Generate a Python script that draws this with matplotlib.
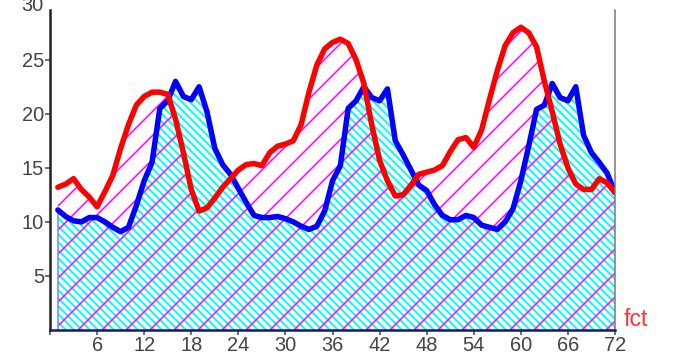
import matplotlib
matplotlib.use("Agg")
import matplotlib.pyplot as plt

# forecast hours
hours = list(range(1, 73))

red_vals = [13.2, 13.5, 14.0, 13.0, 12.3, 11.4, 12.8, 14.3, 16.8, 19.0,
            20.8, 21.6, 22.0, 22.0, 21.8, 19.5, 16.4, 13.0, 11.0, 11.3,
            12.2, 13.2, 14.0, 14.8, 15.3, 15.4, 15.2, 16.4, 17.0, 17.2,
            17.5, 19.0, 22.0, 24.5, 26.0, 26.6, 26.9, 26.5, 25.0, 22.8,
            19.0, 15.7, 13.8, 12.4, 12.5, 13.4, 14.4, 14.6, 14.8, 15.2,
            16.5, 17.6, 17.8, 16.9, 18.5, 21.3, 24.0, 26.3, 27.5, 28.0,
            27.5, 26.2, 23.0, 20.2, 17.2, 15.0, 13.5, 13.0, 13.0, 14.0,
            13.6, 12.7]

blue_vals = [11.1, 10.5, 10.1, 10.0, 10.4, 10.4, 10.0, 9.5, 9.1, 9.5,
             11.5, 13.8, 15.5, 20.5, 21.2, 23.0, 21.6, 21.3, 22.5, 20.2,
             16.8, 15.3, 14.4, 13.1, 11.8, 10.6, 10.4, 10.4, 10.5, 10.3,
             10.0, 9.6, 9.3, 9.6, 11.0, 13.8, 15.2, 20.5, 21.2, 22.5,
             21.5, 21.2, 22.3, 17.5, 16.2, 14.8, 13.4, 12.9, 11.6, 10.6,
             10.2, 10.2, 10.6, 10.4, 9.7, 9.5, 9.3, 10.0, 11.2, 13.8,
             17.0, 20.4, 20.8, 22.8, 21.5, 21.2, 22.5, 18.0, 16.4, 15.5,
             14.5, 12.7]

x_ticks = list(range(0, 73, 6))
x_labels = [""] + [str(t) for t in x_ticks[1:]]
y_ticks = [5, 10, 15, 20, 25]

plt.rcParams['font.family'] = ['Liberation Sans', 'DejaVu Sans']

fig = plt.figure(figsize=(675 / 72, 360 / 72), dpi=72)
ax = fig.add_axes([50 / 675, 30 / 360, 565 / 675, 320 / 360])

# blue area: dense cyan hatch
with plt.rc_context({'hatch.linewidth': 2.0}):
    ax.fill_between(hours, 0, blue_vals, facecolor='none', edgecolor='#00ffff',
                    hatch='\\\\\\', linewidth=0)
# red area: sparse magenta hatch
with plt.rc_context({'hatch.linewidth': 1.5}):
    ax.fill_between(hours, 0, red_vals, facecolor='none', edgecolor='#ff00ff',
                    hatch='/', linewidth=0)
ax.plot([1, 1], [0, blue_vals[0]], color='#6688ff', lw=1.5)

ax.plot(hours, blue_vals, color='#0000ff', lw=5.5, solid_joinstyle='round',
        solid_capstyle='round')
ax.plot(hours, red_vals, color='#ff0000', lw=5.5, solid_joinstyle='round',
        solid_capstyle='round')

ax.set_xlim(0, 72)
ax.set_ylim(0, 29.6)
ax.set_xticks(x_ticks)
ax.set_xticklabels(x_labels)
ax.set_yticks(y_ticks)
ax.tick_params(axis='both', labelsize=20, labelcolor='#444444', color='#444444',
               length=5, width=1.5, pad=1)

ax.spines['top'].set_visible(False)
ax.spines['left'].set_color('#222222')
ax.spines['left'].set_linewidth(2.5)
ax.spines['bottom'].set_color('#1a1a66')
ax.spines['bottom'].set_linewidth(2.5)
ax.spines['right'].set_color('#777777')
ax.spines['right'].set_linewidth(1.5)

# "30" label at the top, partly clipped by the figure edge as in the source
ax.text(-0.012, 30, "30", transform=ax.get_yaxis_transform(), ha='right',
        va='center', fontsize=20, color='#444444', clip_on=False)

fig.text(624 / 675, 1 - 320 / 360, "fct", color='#ff3333', fontsize=23,
         ha='left', va='center')

fig.savefig("out.png", dpi=72)
